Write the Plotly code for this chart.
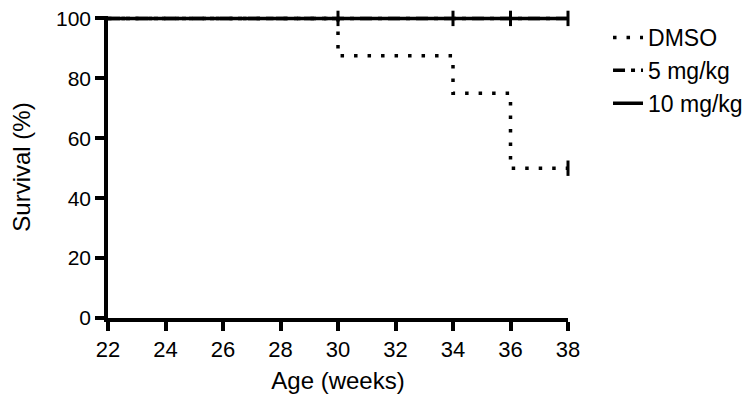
import plotly.graph_objects as go

# Data
groups = ["DMSO", "5 mg/kg", "10 mg/kg"]
dmso_weeks = [22, 30, 34, 36, 38]
dmso_surv = [100, 87.5, 75, 50, 50]
mg5_weeks = [22, 30, 34, 36, 38]
mg5_surv = [100, 100, 100, 100, 100]
mg10_weeks = [22, 30, 34, 36, 38]
mg10_surv = [100, 100, 100, 100, 100]
dmso_censor_x = [38]
dmso_censor_y = [50]
mg_censor_x = [30, 34, 36, 38]
mg_censor_y = [100, 100, 100, 100]
x_ticks = [22, 24, 26, 28, 30, 32, 34, 36, 38]
y_ticks = [0, 20, 40, 60, 80, 100]

FONT = "Liberation Sans, Arial, Helvetica, sans-serif"
styles = {
    "DMSO": "3.5px,10px",
    "5 mg/kg": "12px,6px,4px,6px",
    "10 mg/kg": "solid",
}

fig = go.Figure()
series = [
    ("DMSO", dmso_weeks, dmso_surv),
    ("5 mg/kg", mg5_weeks, mg5_surv),
    ("10 mg/kg", mg10_weeks, mg10_surv),
]
for name, xs, ys in series:
    fig.add_trace(go.Scatter(
        x=xs, y=ys, mode="lines", name=name,
        line=dict(color="black", width=3.5, dash=styles[name], shape="hv"),
    ))

fig.add_trace(go.Scatter(
    x=dmso_censor_x + mg_censor_x, y=dmso_censor_y + mg_censor_y,
    mode="markers", showlegend=False, cliponaxis=False,
    marker=dict(symbol="line-ns", size=11, color="black",
                line=dict(color="black", width=3)),
))

fig.update_layout(
    width=753, height=400,
    margin=dict(l=100, r=193, t=8, b=90, autoexpand=False),
    paper_bgcolor="white", plot_bgcolor="white",
    font=dict(family=FONT, color="black", size=22),
    showlegend=True,
    legend=dict(
        x=1.087, xanchor="left", y=1.0, yanchor="top",
        font=dict(family=FONT, size=23, color="black"),
        tracegroupgap=0,
        bgcolor="rgba(0,0,0,0)", itemwidth=30,
    ),
    xaxis=dict(
        range=[22, 38], tickvals=x_ticks, ticktext=[str(v) for v in x_ticks],
        showgrid=False, zeroline=False, showline=True, linecolor="black",
        linewidth=3.5, ticks="outside", ticklen=9, tickwidth=3.5,
        tickcolor="black", tickfont=dict(size=22), automargin=False,
        ticklabeloverflow="allow",
        title=dict(text="Age (weeks)", font=dict(size=24), standoff=12),
    ),
    yaxis=dict(
        range=[0, 100.8], tickvals=y_ticks, ticktext=[str(v) for v in y_ticks],
        showgrid=False, zeroline=False, showline=True, linecolor="black",
        linewidth=3.5, ticks="outside", ticklen=9, tickwidth=3.5,
        tickcolor="black", tickfont=dict(size=21), automargin=False,
        ticklabeloverflow="allow",
        title=dict(text="Survival (%)", font=dict(size=24), standoff=40),
    ),
)

fig.write_html("out.html")
